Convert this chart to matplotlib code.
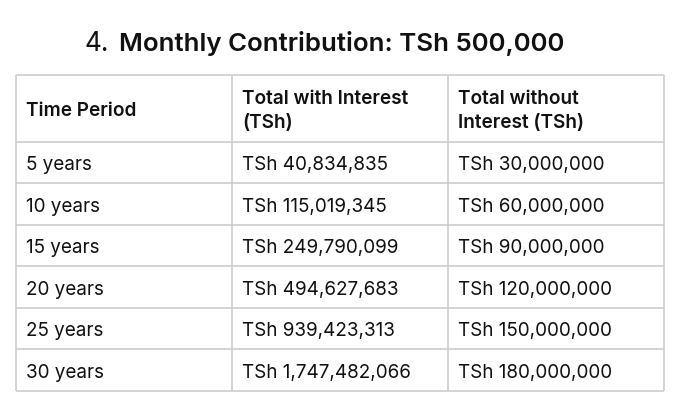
import matplotlib
matplotlib.use("Agg")
import matplotlib.pyplot as plt

plt.rcParams['font.family'] = ['Inter', 'DejaVu Sans']

# table content
headers = ["Time Period", "Total with Interest\n(TSh)", "Total without\nInterest (TSh)"]
periods = ["5 years", "10 years", "15 years", "20 years", "25 years", "30 years"]
with_interest = ["TSh 40,834,835", "TSh 115,019,345", "TSh 249,790,099",
                 "TSh 494,627,683", "TSh 939,423,313", "TSh 1,747,482,066"]
without_interest = ["TSh 30,000,000", "TSh 60,000,000", "TSh 90,000,000",
                    "TSh 120,000,000", "TSh 150,000,000", "TSh 180,000,000"]

fig = plt.figure(figsize=(6.8, 4.06), dpi=100)
ax = fig.add_axes([0, 0, 1, 1])
ax.set_xlim(0, 680)
ax.set_ylim(406, 0)
ax.axis('off')

# layout in pixels
col_x = [16, 232, 448, 664]
header_top, header_bot = 76, 142.7
row_h = 41.5
n_rows = len(periods)
row_y = [header_bot + i * row_h for i in range(n_rows + 1)]
line_col = '#c9c9c9'
pad = 10.5
txt_col = '#111111'

# title
ax.text(84, 51, "4.", fontsize=18.8, va='baseline', ha='left', color=txt_col)
ax.text(119, 51, "Monthly Contribution: TSh 500,000", fontsize=18.6,
        fontweight='semibold', va='baseline', ha='left', color=txt_col)

# grid lines
for y in [header_top] + row_y:
    ax.plot([col_x[0], col_x[-1]], [y, y], color=line_col, lw=1.1, solid_capstyle='butt')
for x in col_x:
    ax.plot([x, x], [header_top, row_y[-1]], color=line_col, lw=1.1, solid_capstyle='butt')

# header
for i, h in enumerate(headers):
    lines = h.split("\n")
    if len(lines) == 1:
        ax.text(col_x[i] + pad, 115.7, lines[0], fontsize=13.7, fontweight='semibold',
                va='baseline', ha='left', color=txt_col)
    else:
        for k, ln in enumerate(lines):
            ax.text(col_x[i] + pad, 103.5 + k * 25, ln, fontsize=13.7,
                    fontweight='semibold', va='baseline', ha='left', color=txt_col)

# rows
for r in range(n_rows):
    cy = (row_y[r] + row_y[r + 1]) / 2
    cells = [periods[r], with_interest[r], without_interest[r]]
    for i, c in enumerate(cells):
        ax.text(col_x[i] + pad, cy + 7, c, fontsize=13.6, va='baseline', ha='left',
                color=txt_col)

fig.savefig('out.png', dpi=100, facecolor='white')
